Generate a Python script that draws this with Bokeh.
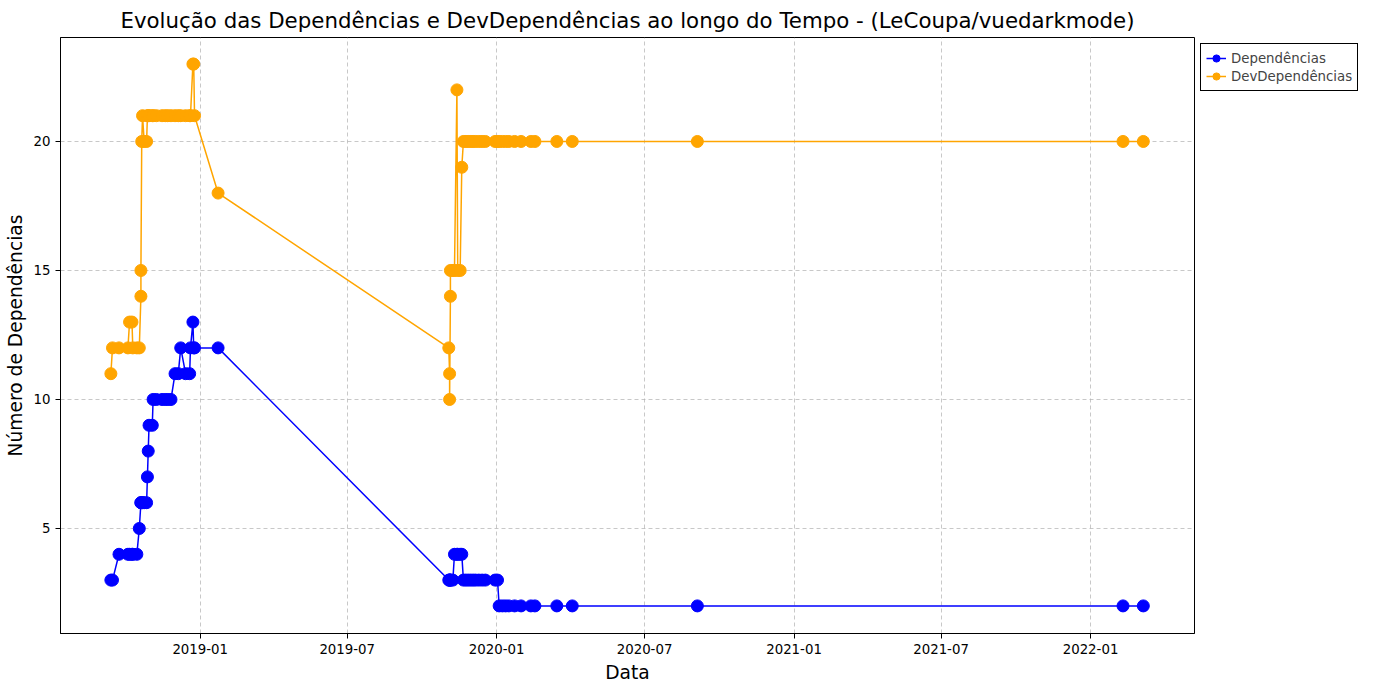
from datetime import datetime
from bokeh.plotting import figure
from bokeh.models import Legend, LegendItem, DatetimeTickFormatter, MonthsTicker, Range1d
from bokeh.embed import file_html
from bokeh.resources import INLINE

dates = ["2018-09-13", "2018-09-15", "2018-09-23", "2018-10-04", "2018-10-06", "2018-10-09",
         "2018-10-10", "2018-10-15", "2018-10-18", "2018-10-20", "2018-10-20", "2018-10-21",
         "2018-10-22", "2018-10-24", "2018-10-27", "2018-10-28", "2018-10-29", "2018-10-30",
         "2018-11-03", "2018-11-04", "2018-11-08", "2018-11-15", "2018-11-19", "2018-11-22",
         "2018-11-26", "2018-12-01", "2018-12-05", "2018-12-08", "2018-12-14", "2018-12-19",
         "2018-12-20", "2018-12-23", "2018-12-24", "2018-12-25", "2019-01-23",
         "2019-11-03", "2019-11-04", "2019-11-04", "2019-11-05", "2019-11-05", "2019-11-08",
         "2019-11-10", "2019-11-13", "2019-11-14", "2019-11-17", "2019-11-19", "2019-11-21",
         "2019-11-24", "2019-11-27", "2019-11-30", "2019-12-03", "2019-12-06", "2019-12-10",
         "2019-12-14", "2019-12-18", "2019-12-30", "2020-01-02", "2020-01-04", "2020-01-08",
         "2020-01-12", "2020-01-16", "2020-01-23", "2020-01-31", "2020-02-12", "2020-02-17",
         "2020-03-15", "2020-04-03", "2020-09-04", "2022-02-10", "2022-03-07"]
dependencias = [3, 3, 4, 4, 4, 4, 4, 4, 5, 6, 6, 6, 6, 6, 6, 7, 8, 9, 9, 10, 10, 10, 10, 10,
                10, 11, 11, 12, 11, 11, 12, 13, 12, 12, 12,
                3, 3, 3, 3, 3, 3, 4, 4, 4, 4, 4, 3, 3, 3, 3, 3, 3, 3, 3, 3, 3, 3, 2, 2,
                2, 2, 2, 2, 2, 2, 2, 2, 2, 2, 2]
dev_dependencias = [11, 12, 12, 12, 13, 13, 12, 12, 12, 14, 15, 20, 21, 20, 20, 21, 21, 21,
                    21, 21, 21, 21, 21, 21, 21, 21, 21, 21, 21, 21, 21, 23, 23, 21, 18,
                    12, 11, 10, 14, 15, 15, 15, 22, 15, 15, 19, 20, 20, 20, 20, 20, 20, 20,
                    20, 20, 20, 20, 20, 20, 20, 20, 20, 20, 20, 20, 20, 20, 20, 20, 20]

x = [datetime.strptime(d, "%Y-%m-%d") for d in dates]

p = figure(frame_width=1134, frame_height=596, x_axis_type="datetime", output_backend="svg",
           toolbar_location=None,
           title="Evolução das Dependências e DevDependências ao longo do Tempo - (LeCoupa/vuedarkmode)",
           x_range=Range1d(datetime(2018, 7, 13), datetime(2022, 5, 9)),
           y_range=Range1d(0.93, 24.03))
p.title.text_font = "DejaVu Sans"
p.title.text_font_size = "16pt"
p.title.text_font_style = "normal"
p.title.text_color = "black"
p.title.align = "center"
p.min_border_left = 60
p.min_border_right = 5
p.min_border_top = 5

l1 = p.line(x, dependencias, color="blue", line_width=1.5)
c1 = p.scatter(x, dependencias, color="blue", size=12)
l2 = p.line(x, dev_dependencias, color="orange", line_width=1.5)
c2 = p.scatter(x, dev_dependencias, color="orange", size=12)

p.xaxis.ticker = MonthsTicker(months=[0, 6])
p.xaxis.formatter = DatetimeTickFormatter(months="%Y-%m", days="%Y-%m", years="%Y-%m")
p.yaxis.ticker = [5, 10, 15, 20]
p.xaxis.axis_label = "Data"
p.yaxis.axis_label = "Número de Dependências"
for ax in (p.xaxis, p.yaxis):
    ax.axis_label_text_font = "DejaVu Sans"
    ax.axis_label_text_font_size = "14pt"
    ax.axis_label_text_font_style = "normal"
    ax.axis_label_text_color = "black"
    ax.major_label_text_font = "DejaVu Sans"
    ax.major_label_text_font_size = "10pt"
    ax.major_label_text_color = "black"
    ax.minor_tick_line_color = None
    ax.major_tick_in = 0
    ax.major_tick_out = 5
p.grid.grid_line_dash = "4 3"
p.grid.grid_line_color = "#b0b0b0"
p.grid.grid_line_alpha = 0.7
p.outline_line_color = "black"

legend = Legend(items=[LegendItem(label="Dependências", renderers=[l1, c1]),
                       LegendItem(label="DevDependências", renderers=[l2, c2])],
                location="top_left", label_text_font="DejaVu Sans", label_text_font_size="10pt",
                border_line_color="black", border_line_alpha=1, padding=5, spacing=0,
                glyph_height=18, label_height=18, margin=6)
p.add_layout(legend, "right")

open("out.html", "w").write(file_html(p, INLINE))
